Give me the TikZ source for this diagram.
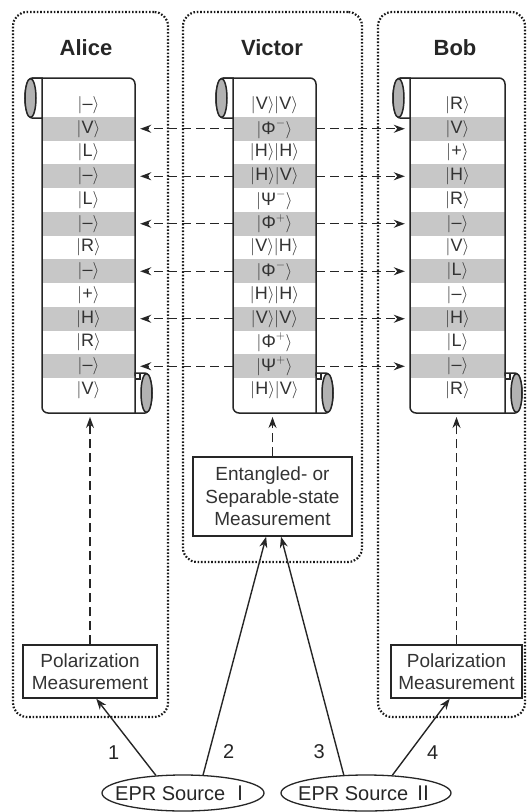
\documentclass[tikz,border=0pt]{standalone}
\usepackage{fontspec}
\setmainfont{Liberation Sans}
\newfontfamily\cjk{Noto Sans CJK SC}
\usepackage{amsmath}
\usetikzlibrary{arrows.meta,positioning,shapes.geometric}

\newcommand{\kt}[1]{\ensuremath{|\text{#1}\rangle}}
\newcommand{\bell}[2]{\ensuremath{|\text{#1}^{#2}\rangle}}

\begin{document}
\begin{tikzpicture}[x=1pt, y=-1pt, > = {Stealth[length=11pt, width=8pt]},
    font=\fontsize{18}{21}\selectfont]
    % Estilos
    \tikzstyle{lane}=[draw=black!90, line width=2.2pt, dash pattern=on 1.6pt off 1.8pt,
        rounded corners=14pt, inner sep=0pt]
    \tikzstyle{labname}=[font=\bfseries\fontsize{22}{26}\selectfont, text=black!85]
    \tikzstyle{ket}=[inner sep=0pt, minimum height=23.75pt, text=black!80]
    \tikzstyle{paper}=[draw=black!85, line width=1.5pt]
    \tikzstyle{meas}=[draw=black!85, line width=1.4pt, align=center, inner sep=0pt,
        font=\fontsize{19}{22.5}\selectfont, text=black!80]
    \tikzstyle{source}=[ellipse, draw=black!85, line width=1.3pt, inner sep=0pt,
        minimum height=36pt, font=\fontsize{20}{24}\selectfont, text=black!85]
    \tikzstyle{flow}=[->, draw=black!85, line width=1.3pt, dash pattern=on 9pt off 5pt]
    \tikzstyle{photon}=[->, draw=black!85, line width=1.4pt]
    \tikzstyle{num}=[inner sep=0pt, font=\fontsize{20}{24}\selectfont, text=black!85]

    \useasboundingbox (0,0) rectangle (528,812);

    % Laboratorios
    \node[lane, minimum width=155pt, minimum height=705pt] (alicelab) at (90.5,364.5) {};
    \node[lane, minimum width=179pt, minimum height=550pt] (victorlab) at (272.5,287) {};
    \node[lane, minimum width=147pt, minimum height=705pt] (boblab) at (451.5,364.5) {};
    \node[labname] (alice) at (86,48) {Alice};
    \node[labname] (victor) at (272,48) {Victor};
    \node[labname] (bob) at (455,48) {Bob};

    % Registros
    \foreach \s [count=\i] in {--,V,L,--,L,--,R,--,+,H,R,--,V} {
        \ifodd\i \def\bg{white}\else \def\bg{black!22}\fi
        \node[ket, fill=\bg, minimum width=93pt] (a\i) at (88.5,{81.25+23.75*\i}) {\kt{\s}};
    }
    \foreach \s [count=\i] in {\kt{V}\kt{V}, \bell{Φ}{-}, \kt{H}\kt{H}, \kt{H}\kt{V},
        \bell{Ψ}{-}, \bell{Φ}{+}, \kt{V}\kt{H}, \bell{Φ}{-}, \kt{H}\kt{H}, \kt{V}\kt{V},
        \bell{Φ}{+}, \bell{Ψ}{+}, \kt{H}\kt{V}} {
        \ifodd\i \def\bg{white}\else \def\bg{black!22}\fi
        \node[ket, fill=\bg, minimum width=83pt] (v\i) at (274.5,{81.25+23.75*\i}) {\s};
    }
    \foreach \s [count=\i] in {R,V,+,H,R,--,V,L,--,H,L,--,R} {
        \ifodd\i \def\bg{white}\else \def\bg{black!22}\fi
        \node[ket, fill=\bg, minimum width=95pt] (b\i) at (457.5,{81.25+23.75*\i}) {\kt{\s}};
    }

    % Rolos
    \foreach \l/\r in {42/135, 233/316, 410/505} {
        \draw[paper, rounded corners=6pt] ({\l-10},78) -- (\r,78) -- (\r,376);
        \draw[paper, rounded corners=6pt] (\l,116) -- (\l,413) -- ({\r+10},413);
        \draw[paper, fill=white] (\l,78) -- ({\l-10},78)
            arc[start angle=270, end angle=90, x radius=7, y radius=20] -- (\l,118) -- cycle;
        \draw[paper, fill=black!30] ({\l-11.5},98) ellipse[x radius=5.5, y radius=19.5];
        \draw[paper, fill=white] (\r,373) -- ({\r+10},373)
            arc[start angle=-90, end angle=90, x radius=7, y radius=20] -- (\r,413) -- cycle;
        \draw[paper, fill=black!30] ({\r+11.5},393) ellipse[x radius=5.5, y radius=19.5];
        \draw[paper] (\r,379) -| ({\r+5},373);
    }

    % Medidas
    \node[meas, minimum width=134pt, minimum height=53pt] (pa) at (90,671.5) {Polarization\\Measurement};
    \node[meas, minimum width=131pt, minimum height=53pt] (pb) at (456.5,671.5) {Polarization\\Measurement};
    \node[meas, minimum width=159pt, minimum height=79pt] (ev) at (272.5,496.5) {Entangled- or\\Separable-state\\Measurement};
    \node[source, minimum width=162pt] (s1) at (183,793) {\makebox[0pt]{EPR Source {\cjk Ⅰ}}};
    \node[source, minimum width=170pt] (s2) at (366,793) {\makebox[0pt]{EPR Source {\cjk Ⅱ}}};
    \coordinate (abot) at (90,413);
    \coordinate (vbot) at (272.5,413);
    \coordinate (bbot) at (456.5,413);

    % Arestas
    \foreach \i in {2,4,...,12} {
        \draw[flow, shorten >=5pt] (v\i.west) -- (a\i.east);
        \draw[flow, shorten >=5pt] (v\i.east) -- (b\i.west);
    }
    \draw[flow, shorten >=4pt] (pa.north) -- (abot);
    \draw[flow, shorten >=4pt] (ev.north) -- (vbot);
    \draw[flow, shorten >=4pt] (pb.north) -- (bbot);
    \draw[photon] (s1.147) -- node[num, pos=.3, left=18pt] (n1) {1} (pa.-77);
    \draw[photon] (s1.42) -- node[num, pos=.1, right=13pt] (n2) {2} (ev.-99);
    \draw[photon] (s2.141) -- node[num, pos=.1, left=12pt] (n3) {3} (ev.-78);
    \draw[photon] (s2.34) -- node[num, pos=.3, right=17pt] (n4) {4} (pb.-104);
\end{tikzpicture}
\end{document}
